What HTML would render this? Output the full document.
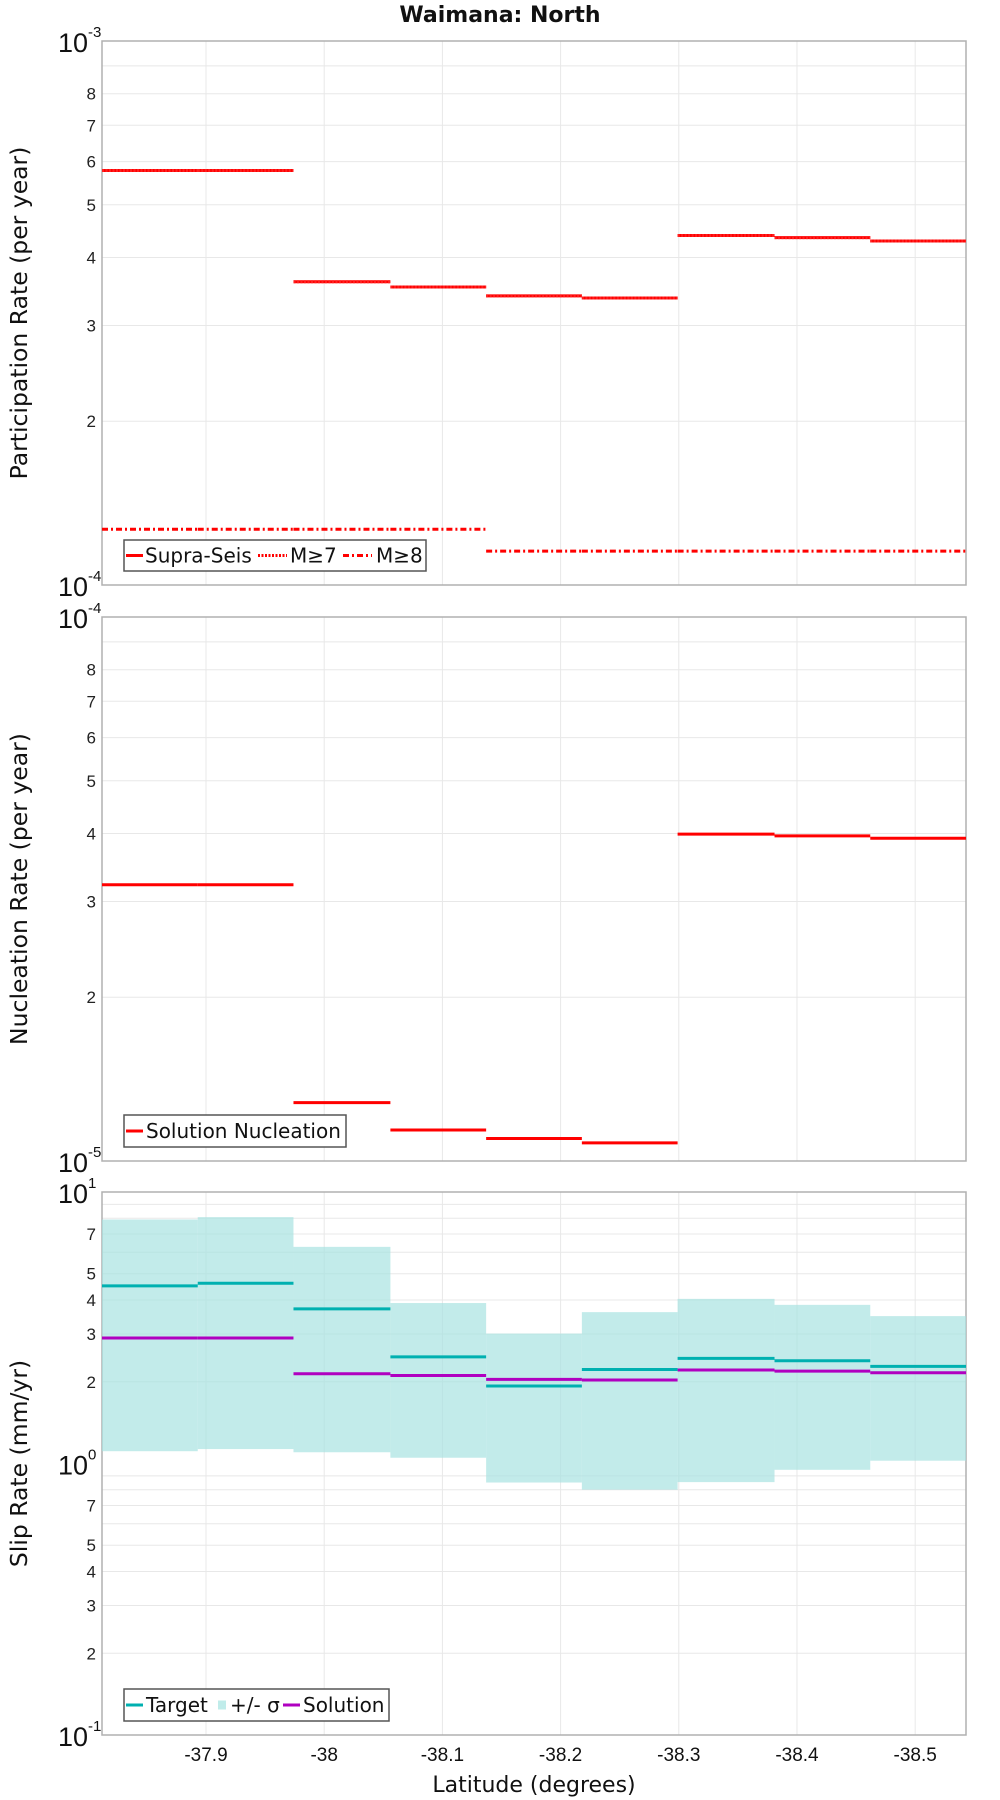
<!DOCTYPE html>
<html><head><meta charset="utf-8">
<style>
body{margin:0;background:#fff;}
svg{display:block;font-family:"DejaVu Sans","Liberation Sans",sans-serif;}
</style></head>
<body>
<svg id="chart" width="1000" height="1800" viewBox="0 0 1000 1800" xmlns="http://www.w3.org/2000/svg"></svg>
<script>
// Data
const latBounds = [-37.812,-37.893,-37.974,-38.056,-38.137,-38.218,-38.299,-38.381,-38.462,-38.543];
const latTicks = [-37.9,-38,-38.1,-38.2,-38.3,-38.4,-38.5];
const latTickLabels = ["-37.9","-38","-38.1","-38.2","-38.3","-38.4","-38.5"];
const supraSeis = [5.78e-4,5.78e-4,3.61e-4,3.53e-4,3.40e-4,3.37e-4,4.39e-4,4.35e-4,4.29e-4];
const m7 = [5.78e-4,5.78e-4,3.61e-4,3.53e-4,3.40e-4,3.37e-4,4.39e-4,4.35e-4,4.29e-4];
const m8 = [1.266e-4,1.266e-4,1.266e-4,1.266e-4,1.154e-4,1.154e-4,1.154e-4,1.154e-4,1.154e-4];
const nucleation = [3.22e-5,3.22e-5,1.28e-5,1.14e-5,1.10e-5,1.08e-5,3.99e-5,3.96e-5,3.92e-5];
const target = [4.51,4.61,3.71,2.47,1.93,2.22,2.44,2.39,2.28];
const solution = [2.90,2.90,2.14,2.11,2.04,2.03,2.21,2.19,2.16];
const sigmaHi = [7.92,8.08,6.28,3.90,3.01,3.61,4.04,3.84,3.49];
const sigmaLo = [1.11,1.13,1.10,1.05,0.851,0.801,0.854,0.948,1.024];

const NS="http://www.w3.org/2000/svg";
const svg=document.getElementById('chart');
const L=102,R=966;
const LAT0=-37.812,LAT1=-38.543;
function xs(lat){return L+(lat-LAT0)/(LAT1-LAT0)*(R-L);}
function mk(tag,attrs,parent){const e=document.createElementNS(NS,tag);for(const k in attrs)e.setAttribute(k,attrs[k]);(parent||svg).appendChild(e);return e;}

const panels=[
 {top:41,bot:585,lo:-4,hi:-3,name:'participation'},
 {top:617,bot:1161,lo:-5,hi:-4,name:'nucleation'},
 {top:1192,bot:1735,lo:-1,hi:1,name:'slip-rate'}
];
function ys(p,v){return p.bot-(Math.log10(v)-p.lo)/(p.hi-p.lo)*(p.bot-p.top);}

function drawAxes(p,title){
  const g=mk('g',{});
  
  
  for(let d=p.lo;d<p.hi;d++){
    for(let m=1;m<=9;m++){
      const v=m*Math.pow(10,d);const y=ys(p,v);
      if(m>1){const gl=mk('line',{x1:L,x2:R,y1:y,y2:y,stroke:'#e8e8e8','stroke-width':1},g);
        }
      if(m>1 && !(p.hi-p.lo===2 && (m===6||m===8||m===9)) && m!==9){
        const t=mk('text',{x:96,y:y+6,'text-anchor':'end','font-size':17,fill:'#222','font-family':'Liberation Sans, sans-serif'},g);
        t.textContent=m;
      }
    }
  }
  for(const lat of latTicks){const x=xs(lat);const gl=mk('line',{x1:x,x2:x,y1:p.top,y2:p.bot,stroke:'#e8e8e8','stroke-width':1},g);
    }
  for(let d=p.lo;d<=p.hi;d++){
    const y=ys(p,Math.pow(10,d));
    const t=mk('text',{x:88,y:y+11,'text-anchor':'end','font-size':27,fill:'#111','font-family':'Liberation Sans, sans-serif'},g);
    t.textContent='10';
    const s=mk('text',{x:88,y:y-4,'text-anchor':'start','font-size':15,fill:'#111','font-family':'Liberation Sans, sans-serif'},g);
    s.textContent=String(d);
  }
  const fr=mk('rect',{x:L,y:p.top,width:R-L,height:p.bot-p.top,fill:'none',stroke:'#b0b0b0','stroke-width':1.5},g);
  
  const cy=(p.top+p.bot)/2;
  const at=mk('text',{x:0,y:0,transform:`translate(27,${cy}) rotate(-90)`,'text-anchor':'middle','font-size':23.5,fill:'#111'},g);
  at.textContent=title;
}
function steps(p,vals,color,w,dash,name){
  for(let i=0;i<vals.length;i++){
    const y=ys(p,vals[i]);
    const ln=mk('line',{x1:xs(latBounds[i]),x2:xs(latBounds[i+1]),y1:y,y2:y,stroke:color,'stroke-width':w});
    if(dash)ln.setAttribute('stroke-dasharray',dash);
    
    
  }
}
function legend(x,y,w,h,items){
  const g=mk('g',{});
  
  
  const r=mk('rect',{x:x,y:y,width:w,height:h,fill:'#fff',stroke:'#555','stroke-width':1.5},g);
  
  for(const it of items){
    const ln=mk('line',{x1:it.sx,x2:it.sx2,y1:y+h/2,y2:y+h/2,stroke:it.color,'stroke-width':it.box?9:3},g);
    if(it.dash)ln.setAttribute('stroke-dasharray',it.dash);
    
    const t=mk('text',{x:it.tx,y:y+h/2+7,'font-size':20,fill:'#111','font-family':'DejaVu Sans, sans-serif'},g);
    t.textContent=it.label;
  }
}

const ttl=mk('text',{x:500,y:22,'text-anchor':'middle','font-size':22,'font-weight':'bold',fill:'#111'});
ttl.textContent='Waimana: North';

// Panel 1
const p1=panels[0];drawAxes(p1,'Participation Rate (per year)');
steps(p1,supraSeis,'#ff0000',3,null,'supra-seis-step');
steps(p1,m7,'#ff2020',3,'2,1.5','m7-step');
steps(p1,m8,'#ff0000',3,'6,3,2,3','m8-step');
legend(124,540,302,31,[
 {label:'Supra-Seis',color:'#f00',sx:126,sx2:143,tx:145},
 {label:'M≥7',color:'#f00',dash:'2,1.5',sx:258,sx2:287,tx:290},
 {label:'M≥8',color:'#f00',dash:'6,3,2,3',sx:343,sx2:372,tx:376}]);

// Panel 2
const p2=panels[1];drawAxes(p2,'Nucleation Rate (per year)');
steps(p2,nucleation,'#ff0000',3,null,'nucleation-step');
legend(124,1115,222,32,[{label:'Solution Nucleation',color:'#f00',sx:126,sx2:143,tx:146}]);

// Panel 3
const p3=panels[2];drawAxes(p3,'Slip Rate (mm/yr)');
for(let i=0;i<sigmaHi.length;i++){
  const x1=xs(latBounds[i]),x2=xs(latBounds[i+1]);
  const y1=ys(p3,sigmaHi[i]),y2=ys(p3,sigmaLo[i]);
  const r=mk('rect',{x:x1,y:y1,width:x2-x1,height:y2-y1,fill:'#a5e2e0','fill-opacity':0.68});
  
  
}
steps(p3,target,'#00b0b0',3,null,'target-step');
steps(p3,solution,'#b000c0',3,null,'solution-step');
legend(124,1689,265,32,[
 {label:'Target',color:'#00b0b0',sx:126,sx2:143,tx:146},
 {label:'+/- σ',color:'#c0ecea',box:true,sx:218,sx2:226,tx:230},
 {label:'Solution',color:'#b000c0',sx:283,sx2:300,tx:303}]);

for(let i=0;i<latTicks.length;i++){
  const t=mk('text',{x:xs(latTicks[i]),y:1761,'text-anchor':'middle','font-size':19,fill:'#111','font-family':'Liberation Sans, sans-serif'});
  t.textContent=latTickLabels[i];
}
const xt=mk('text',{x:534,y:1792,'text-anchor':'middle','font-size':22,fill:'#111'});
xt.textContent='Latitude (degrees)';
</script>
</body></html>
